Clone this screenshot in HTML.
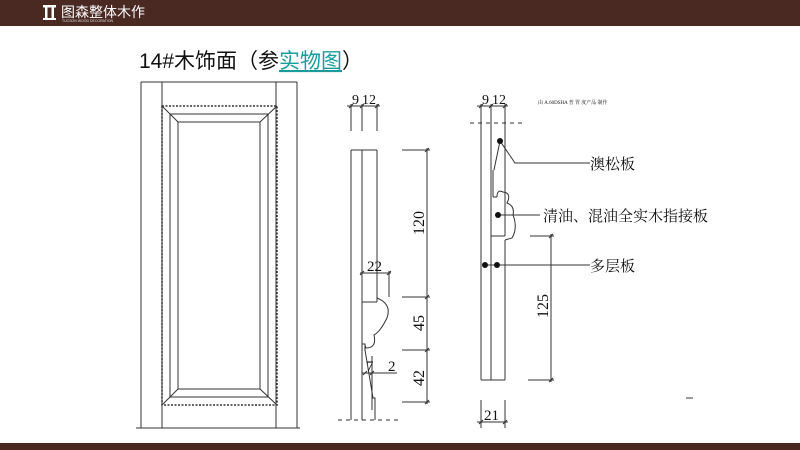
<!DOCTYPE html>
<html><head><meta charset="utf-8"><style>
html,body{margin:0;padding:0;background:#fff}
#c{position:relative;width:800px;height:450px;overflow:hidden;background:#fff;font-family:"Liberation Sans","Noto Sans CJK SC",sans-serif}
.hdr{position:absolute;left:0;top:0;width:800px;height:26px;background:#4a2923}
.ftr{position:absolute;left:0;top:443px;width:800px;height:7px;background:#4a2923}
</style></head><body><div id="c">
<div class="hdr"></div><div class="ftr"></div>
<svg width="800" height="450" style="position:absolute;left:0;top:0" font-family="Liberation Serif, Noto Serif CJK SC, serif">
<g fill="#fff">
<rect x="43" y="5" width="13" height="2.5"/><rect x="45" y="7" width="2.5" height="12"/><rect x="51.5" y="7" width="2.5" height="12"/><rect x="43" y="18" width="13" height="2"/>
</g>
<text x="61" y="17" fill="#fff" font-size="14" font-family="Liberation Sans, Noto Sans CJK SC, sans-serif">图森整体木作</text>
<text x="62" y="22" fill="#ddd" font-size="3.5" font-family="Liberation Sans, sans-serif">TUCSON WOOD DECORATION</text>
<text x="139" y="68" font-size="21" fill="#111" font-family="Liberation Sans, Noto Sans CJK SC, sans-serif">14#木饰面（参<tspan fill="#1a9c9c" text-decoration="underline">实物图</tspan>）</text>
<g stroke="#333" stroke-width="1" fill="none">
<line x1="141" y1="82" x2="141" y2="428"/><line x1="297" y1="82" x2="297" y2="428"/>
<line x1="141" y1="82" x2="297" y2="82"/>
<line x1="162" y1="82" x2="162" y2="428"/><line x1="276" y1="82" x2="276" y2="428"/>
<line x1="136" y1="428" x2="300" y2="428"/>
<rect x="162" y="106" width="115" height="299" stroke-dasharray="2,1.5" stroke-width="1.5"/>
<rect x="170" y="114" width="98" height="283"/>
<rect x="178" y="122" width="82" height="267"/>
<line x1="162" y1="106" x2="178" y2="122"/><line x1="277" y1="106" x2="260" y2="122"/>
<line x1="162" y1="405" x2="178" y2="389"/><line x1="277" y1="405" x2="260" y2="389"/>
<line x1="351" y1="150" x2="351" y2="420"/><line x1="362" y1="150" x2="362" y2="420"/>
<line x1="351" y1="150" x2="377" y2="150"/><line x1="377" y1="150" x2="377" y2="302"/>
<line x1="362" y1="302" x2="377" y2="302"/>
<path d="M377,298 Q392,304 387,318 Q380,332 374,335 Q377,348 366,348 L365,345"/>
<path d="M362,344 L365,344 L365,350 L373,398 L375,398 L375,420"/>
<line x1="372" y1="356" x2="372" y2="410"/>
<line x1="338" y1="420" x2="398" y2="420" stroke-dasharray="4,4"/>
<line x1="351" y1="104" x2="351" y2="131"/><line x1="362" y1="104" x2="362" y2="131"/><line x1="377" y1="104" x2="377" y2="131"/>
<line x1="347" y1="106" x2="380" y2="106"/>
<line x1="427" y1="148" x2="427" y2="404"/>
<line x1="402" y1="150" x2="430" y2="150"/><line x1="402" y1="297" x2="430" y2="297"/><line x1="402" y1="350" x2="430" y2="350"/><line x1="402" y1="402" x2="430" y2="402"/>
<line x1="360" y1="273" x2="391" y2="273"/><line x1="389" y1="271" x2="389" y2="297"/>
<line x1="362" y1="373" x2="397" y2="373"/>
<line x1="481" y1="104" x2="481" y2="380"/><line x1="491" y1="104" x2="491" y2="380"/><line x1="505" y1="104" x2="505" y2="236"/>
<line x1="481" y1="380" x2="505" y2="380"/>
<line x1="493" y1="170" x2="493" y2="197"/><line x1="493" y1="197" x2="497" y2="197"/>
<path d="M497,197 Q497,189 503,192 Q512,193 507,203 Q515,206 513,215 Q518,228 512,238 L505,240"/>
<line x1="491" y1="236" x2="505" y2="236"/><line x1="505" y1="240" x2="505" y2="380"/>
<line x1="470" y1="123" x2="523" y2="123" stroke-dasharray="4,4"/>
<line x1="477" y1="106" x2="508" y2="106"/>
<path d="M500,141 L515,163 L590,163"/><line x1="498" y1="215" x2="540" y2="215"/><line x1="485" y1="265" x2="590" y2="265"/><path d="M500,141 L494,170"/>
<line x1="551" y1="234" x2="551" y2="382"/><line x1="530" y1="236" x2="554" y2="236"/><line x1="528" y1="380" x2="554" y2="380"/>
<line x1="477" y1="422" x2="508" y2="422"/><line x1="481" y1="400" x2="481" y2="428"/><line x1="505" y1="400" x2="505" y2="428"/>
<line x1="686" y1="398" x2="693" y2="398"/>
</g>
<g stroke="#333" stroke-width="1">
<path d="M349,108 l4,-4 M360,108 l4,-4 M375,108 l4,-4 M479,108 l4,-4 M489,108 l4,-4 M503,108 l4,-4 M425,152 l4,-4 M425,299 l4,-4 M425,352 l4,-4 M425,404 l4,-4 M360,275 l4,-4 M387,275 l4,-4 M549,238 l4,-4 M549,382 l4,-4 M479,424 l4,-4 M503,424 l4,-4 M363,375 l4,-4 M370,375 l4,-4"/>
</g>
<g fill="#111">
<circle cx="500" cy="141" r="3"/><circle cx="498" cy="215" r="3"/><circle cx="485" cy="265" r="3"/><circle cx="497" cy="265" r="3"/>
</g>
<g font-size="15" fill="#111">
<text x="352" y="104" font-size="14">9</text><text x="362" y="104" font-size="14">12</text>
<text x="482" y="104" font-size="14">9</text><text x="492" y="104" font-size="14">12</text>
<text x="367" y="271" font-size="15">22</text>
<text x="366" y="371" font-size="15">7</text><text x="388" y="371" font-size="15">2</text>
<text transform="translate(424,235) rotate(-90)" font-size="16">120</text>
<text transform="translate(424,331) rotate(-90)" font-size="16">45</text>
<text transform="translate(424,386) rotate(-90)" font-size="16">42</text>
<text transform="translate(548,318) rotate(-90)" font-size="16">125</text>
<text x="484" y="420" font-size="15">21</text>
<text x="590" y="169" font-size="15">澳松板</text>
<text x="543" y="221" font-size="15">清油、混油全实木指接板</text>
<text x="590" y="271" font-size="15">多层板</text>
<text x="538" y="104" font-size="5">由 A.60DSHA 普 胃 度产品 制作</text>
</g>
</svg>
</div></body></html>
